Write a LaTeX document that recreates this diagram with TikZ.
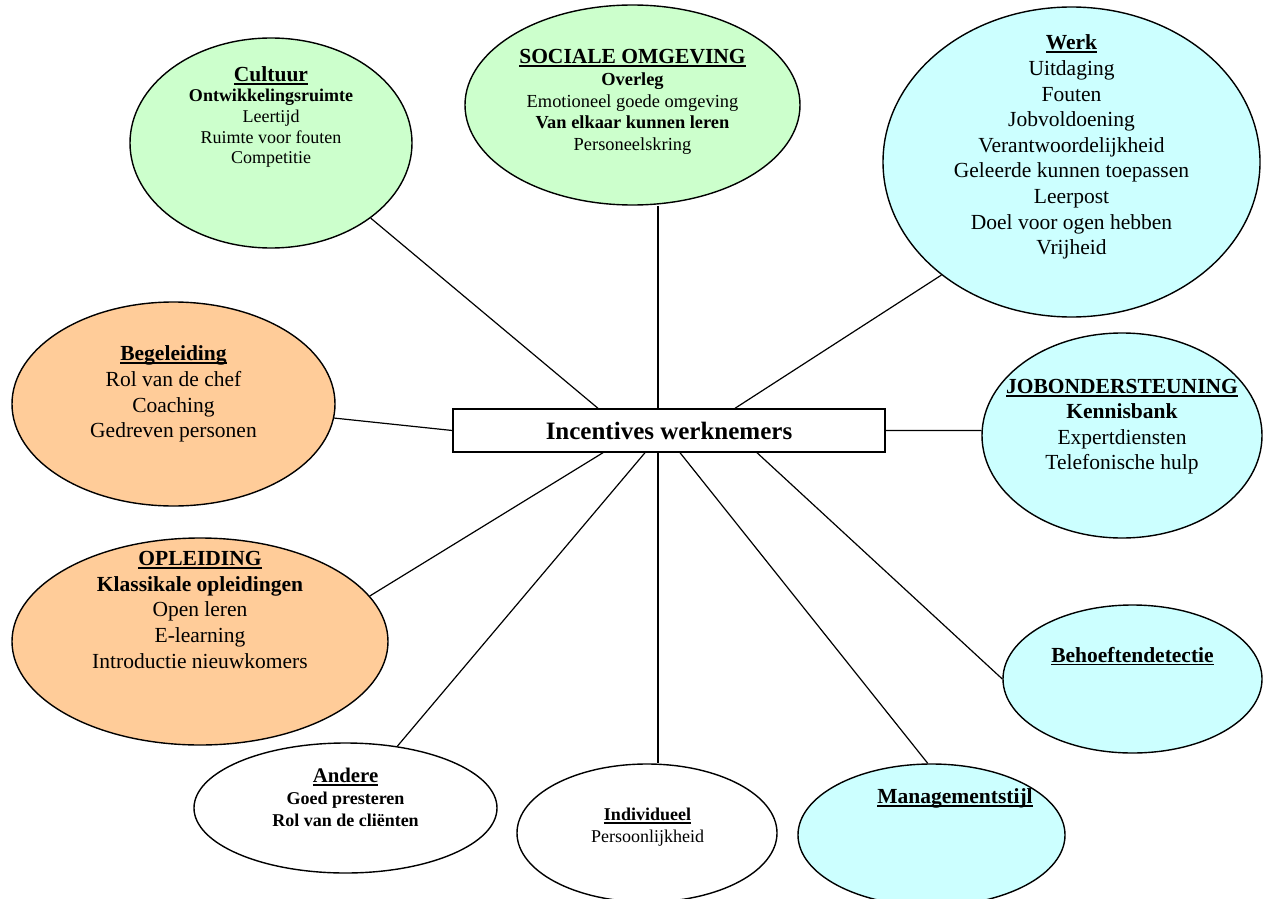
\documentclass[tikz,border=0pt]{standalone}
\usepackage{fontspec}
\setmainfont{Liberation Serif}
\usetikzlibrary{shapes.geometric}

\definecolor{mintfill}{RGB}{204,255,204}
\definecolor{peachfill}{RGB}{255,204,153}
\definecolor{skyfill}{RGB}{204,255,255}

% bold heading with a word-processor style underline
\newsavebox\hdbox
\newcommand\hd[1]{\sbox\hdbox{\bfseries #1}\rlap{\rule[-0.16em]{\wd\hdbox}{0.09em}}\usebox\hdbox}
\newcommand\fontL{\fontsize{10.75}{12.8}\selectfont}
\newcommand\fontS{\fontsize{9}{10.3}\selectfont}

\begin{document}
\begin{tikzpicture}[x=0.5pt, y=-0.5pt,
  bubble/.style={ellipse, draw=black, line width=0.7pt, inner sep=0pt},
  txtL/.style={anchor=north, inner sep=0pt, align=center, font=\fontL},
  txtS/.style={anchor=north, inner sep=0pt, align=center, font=\fontS},
  link/.style={line width=0.6pt}]

\useasboundingbox (0,0) rectangle (1263,899);
\clip (0,0) rectangle (1263,899);
\fill[white] (0,0) rectangle (1263,899);

% central topic
\node[draw=black, line width=0.7pt, fill=white, minimum width=216pt, minimum height=21.5pt, inner sep=0pt,
      font=\fontsize{12.5}{14}\selectfont\bfseries] (hub) at (669,430.5) {Incentives werknemers};

% surrounding bubbles
\node[bubble, fill=mintfill,  minimum width=141pt,   minimum height=105pt]   (cultuur)  at (271,143)    {};
\node[bubble, fill=mintfill,  minimum width=167.5pt, minimum height=100pt]   (sociaal)  at (632.5,105)  {};
\node[bubble, fill=skyfill,   minimum width=188.5pt, minimum height=155pt]   (werk)     at (1071.5,162) {};
\node[bubble, fill=peachfill, minimum width=161.5pt, minimum height=102pt]   (begel)    at (173.5,404)  {};
\node[bubble, fill=peachfill, minimum width=188pt,   minimum height=103.5pt] (opleid)   at (200,641.5)  {};
\node[bubble, fill=skyfill,   minimum width=140pt,   minimum height=102.5pt] (jobond)   at (1122,435.5) {};
\node[bubble, fill=skyfill,   minimum width=129.5pt, minimum height=74pt]    (behoefte) at (1132.5,679) {};
\node[bubble, fill=white,     minimum width=151.5pt, minimum height=65pt]    (andere)   at (345.5,808)  {};
\node[bubble, fill=white,     minimum width=130pt,   minimum height=69pt]    (indiv)    at (647,833)    {};
\node[bubble, fill=skyfill,   minimum width=133.5pt, minimum height=71pt]    (mgmt)     at (931.5,835)  {};

% bubble texts
\node[txtS] (cultuur-t) at (271,66) {{\fontL\hd{Cultuur}}\\\textbf{Ontwikkelingsruimte}\\Leertijd\\Ruimte voor fouten\\Competitie};
\node[txtS, font=\fontsize{9.2}{10.85}\selectfont] (sociaal-t) at (632.5,49) {{\fontL\hd{SOCIALE OMGEVING}}\\\textbf{Overleg}\\Emotioneel goede omgeving\\\textbf{Van elkaar kunnen leren}\\Personeelskring};
\node[txtL] (werk-t) at (1071.5,34.5) {\hd{Werk}\\Uitdaging\\Fouten\\Jobvoldoening\\Verantwoordelijkheid\\Geleerde kunnen toepassen\\Leerpost\\Doel voor ogen hebben\\Vrijheid};
\node[txtL] (begel-t) at (173.5,345.5) {\hd{Begeleiding}\\Rol van de chef\\Coaching\\Gedreven personen};
\node[txtL] (opleid-t) at (200,551) {\hd{OPLEIDING}\\\textbf{Klassikale opleidingen}\\Open leren\\E-learning\\Introductie nieuwkomers};
\node[txtL] (jobond-t) at (1122,378.5) {\hd{JOBONDERSTEUNING}\\\textbf{Kennisbank}\\Expertdiensten\\Telefonische hulp};
\node[txtL] (behoefte-t) at (1132.5,646.5) {\hd{Behoeftendetectie}};
\node[txtL] (mgmt-t) at (955,788.5) {\hd{Managementstijl}};
\node[txtS, font=\fontsize{9}{11}\selectfont] (andere-t) at (345.5,767.5) {{\fontsize{10.4}{11}\selectfont\hd{Andere}}\\\textbf{Goed presteren}\\\textbf{Rol van de cliënten}};
\node[txtS, font=\fontsize{9}{10.85}\selectfont] (indiv-t) at (647.5,808) {\hd{Individueel}\\Persoonlijkheid};

% connectors
\draw[link] (cultuur.-37)  -- ([xshift=-35.5pt]hub.north);
\draw[link] ([xshift=-5.5pt]hub.north) -- ([xshift=-5.5pt]hub.north |- sociaal.south);
\draw[link] (werk.221)     -- ([xshift=33pt]hub.north);
\draw[link] (begel.-5.7)   -- (hub.west);
\draw[link] (hub.east)     -- (jobond.178);
\draw[link] (opleid.15.5)  -- ([xshift=-33pt]hub.south);
\draw[link] (andere.50.6)  -- ([xshift=-12pt]hub.south);
\draw[link] ([xshift=-5.5pt]hub.south) -- ([xshift=-5.5pt]hub.south |- indiv.north);
\draw[link] (mgmt.93.6)    -- ([xshift=5.5pt]hub.south);
\draw[link] (behoefte.180) -- ([xshift=44pt]hub.south);

\end{tikzpicture}
\end{document}
